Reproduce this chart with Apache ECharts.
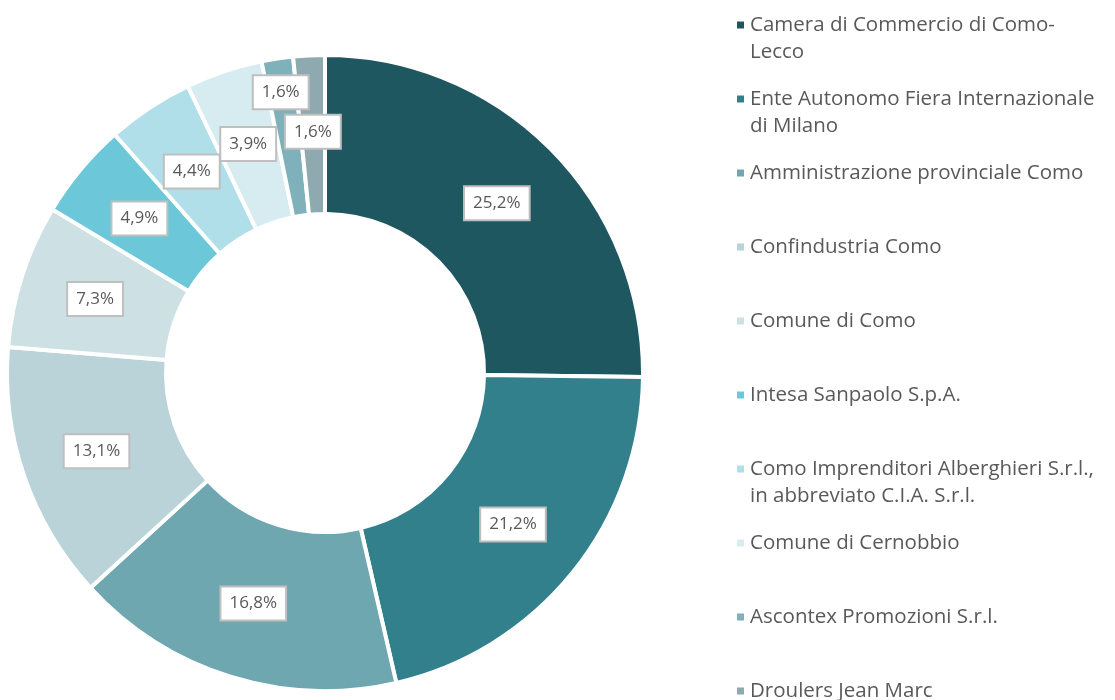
<!DOCTYPE html>
<html>
<head>
<meta charset="utf-8">
<script src="https://cdn.jsdelivr.net/npm/echarts@6/dist/echarts.min.js"></script>
<style>
  html, body { margin: 0; padding: 0; background: #fff; }
  #chart { width: 1115px; height: 700px; }
</style>
</head>
<body>
<div id="chart"></div>
<script>
// categorie (soci) e quote percentuali
const categories = [
  'Camera di Commercio di Como-Lecco',
  'Ente Autonomo Fiera Internazionale di Milano',
  'Amministrazione provinciale Como',
  'Confindustria Como',
  'Comune di Como',
  'Intesa Sanpaolo S.p.A.',
  'Como Imprenditori Alberghieri S.r.l., in abbreviato C.I.A. S.r.l.',
  'Comune di Cernobbio',
  'Ascontex Promozioni S.r.l.',
  'Droulers Jean Marc'
]
const legendLabels = [
  'Camera di Commercio di Como-\nLecco',
  'Ente Autonomo Fiera Internazionale\ndi Milano',
  'Amministrazione provinciale Como',
  'Confindustria Como',
  'Comune di Como',
  'Intesa Sanpaolo S.p.A.',
  'Como Imprenditori Alberghieri S.r.l.,\nin abbreviato C.I.A. S.r.l.',
  'Comune di Cernobbio',
  'Ascontex Promozioni S.r.l.',
  'Droulers Jean Marc'
]
const shares = [25.2, 21.2, 16.8, 13.1, 7.3, 4.9, 4.4, 3.9, 1.6, 1.6]
const colors = ['#1F5761', '#31808C', '#6EA7B0', '#B9D3D8', '#CDE0E4',
                '#6CC8D9', '#B0DFEA', '#D6ECF1', '#7FB1BA', '#8EA9AF']

const chart = echarts.init(document.getElementById('chart'))

const fmt = (v) => v.toFixed(1).replace('.', ',') + '%'
const LH = 27

// una legenda per voce, così la spaziatura resta costante come nell'originale.
// Per le voci su due righe si antepone una riga vuota: la prima riga di testo
// resta così centrata sul quadratino.
const legends = categories.map((name, i) => {
  const twoLines = legendLabels[i].indexOf('\n') >= 0
  const c = 25 + i * 74
  return {
    left: 735,
    top: c - (twoLines ? LH * 1.5 : LH / 2),
    padding: 0,
    orient: 'vertical',
    selectedMode: false,
    icon: 'rect',
    itemWidth: 9,
    itemHeight: 9,
    itemGap: 0,
    data: [name],
    formatter: () => (twoLines ? ' \n' : '') + legendLabels[i],
    textStyle: {
      fontFamily: 'Open Sans',
      fontSize: 20.5,
      color: '#595959',
      lineHeight: LH
    }
  }
})

chart.setOption({
  animation: false,
  color: colors,
  legend: legends,
  series: [{
    type: 'pie',
    center: [325, 373],
    radius: [159, 318],
    startAngle: 90,
    clockwise: true,
    avoidLabelOverlap: false,
    itemStyle: { borderColor: '#ffffff', borderWidth: 4 },
    label: {
      show: true,
      position: 'inside',
      formatter: (p) => fmt(p.value),
      fontFamily: 'Open Sans',
      fontSize: 17,
      lineHeight: 19,
      color: '#595959',
      backgroundColor: '#ffffff',
      borderColor: '#BFBFBF',
      borderWidth: 2,
      padding: [7, 8, 6, 8]
    },
    labelLine: { show: false },
    labelLayout: (p) => (p.dataIndex === 8 ? { dx: -8, dy: -42 } : {}),
    data: categories.map((name, i) => ({ name, value: shares[i] }))
  }]
})
</script>
</body>
</html>
